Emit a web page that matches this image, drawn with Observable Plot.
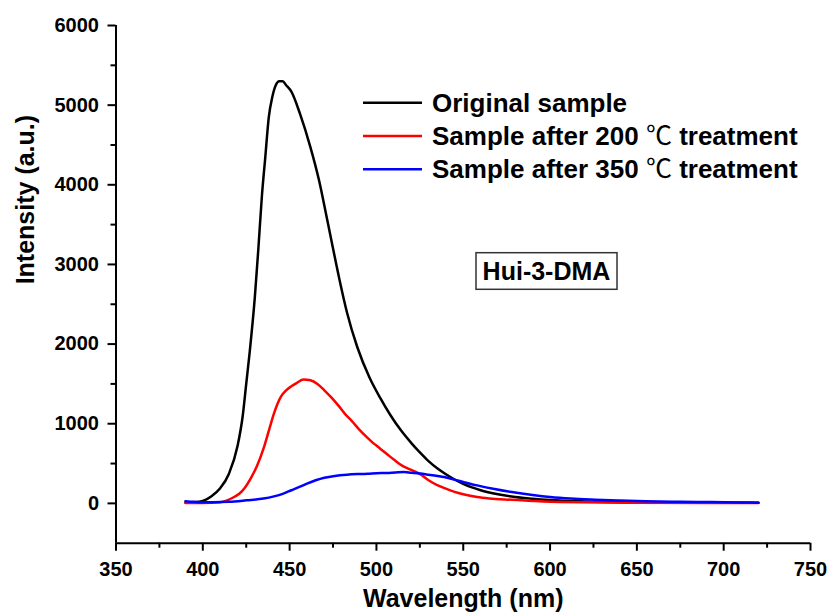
<!DOCTYPE html>
<html>
<head>
<meta charset="utf-8">
<script src="https://cdn.jsdelivr.net/npm/d3@7"></script>
<script src="https://cdn.jsdelivr.net/npm/@observablehq/plot@0.6"></script>
<style>
  html, body { margin: 0; padding: 0; background: #fff; }
  #chart { position: relative; width: 832px; height: 614px; }
  svg { display: block; }
</style>
</head>
<body>
<div id="chart"></div>
<script>
// ---- Data ----
const seriesNames = ["Original sample", "Sample after 200 \u2103 treatment", "Sample after 350 \u2103 treatment"];
const seriesColors = ["#000000", "#ff0000", "#0000ff"];

const originalWl = [390, 395, 400, 405, 410, 415, 420, 423, 425, 427, 430, 432, 434, 436, 438, 440, 442, 444, 446, 448, 451, 456, 462, 467, 471, 475, 479, 483, 489, 496, 502, 508, 514, 520, 525, 530, 535, 540, 545, 550, 555, 560, 570, 580, 590, 600, 620, 650, 680, 720];
const originalI  = [10, 14, 30, 90, 190, 370, 720, 1100, 1500, 1900, 2600, 3200, 3850, 4350, 4850, 5100, 5250, 5300, 5300, 5250, 5170, 4890, 4470, 4050, 3630, 3200, 2780, 2400, 1960, 1580, 1330, 1110, 920, 760, 640, 530, 440, 365, 300, 245, 200, 165, 115, 80, 58, 42, 25, 15, 10, 8];

const t200Wl = [390, 400, 410, 414, 418, 421, 424, 428, 431, 435, 438, 441, 445, 448, 451, 454, 458, 462, 466, 470, 474, 478, 482, 486, 490, 494, 498, 502, 506, 510, 515, 520, 525, 530, 535, 540, 545, 550, 558, 565, 578, 590, 606, 650, 720];
const t200I  = [5, 5, 15, 38, 80, 120, 190, 330, 460, 690, 910, 1130, 1340, 1420, 1470, 1510, 1555, 1545, 1500, 1420, 1330, 1230, 1120, 1030, 930, 840, 760, 690, 620, 550, 470, 420, 370, 290, 230, 185, 145, 115, 80, 62, 45, 30, 16, 8, 4];

const t350Wl = [390, 395, 400, 406, 415, 425, 435, 441, 446, 451, 456, 460, 465, 470, 476, 483, 490, 495, 500, 506, 511, 516, 520, 525, 530, 539, 548, 558, 568, 578, 590, 600, 612, 626, 640, 655, 675, 693, 710, 720];
const t350I  = [28, 20, 15, 15, 20, 38, 60, 88, 120, 165, 210, 248, 290, 322, 345, 360, 368, 372, 378, 382, 388, 393, 385, 375, 360, 330, 280, 226, 180, 142, 105, 80, 60, 46, 35, 26, 20, 16, 12, 9];

const xTicks = [350, 400, 450, 500, 550, 600, 650, 700, 750];
const xMinor = [375, 425, 475, 525, 575, 625, 675, 725];
const yTicks = [0, 1000, 2000, 3000, 4000, 5000, 6000];
const yMinor = [500, 1500, 2500, 3500, 4500, 5500];

const xLabel = "Wavelength (nm)";
const yLabel = "Intensity (a.u.)";
const sampleTag = "Hui-3-DMA";

// ---- Build table ----
const wls = [originalWl, t200Wl, t350Wl];
const vals = [originalI, t200I, t350I];
const data = [];
seriesNames.forEach((name, s) => {
  wls[s].forEach((w, i) => data.push({series: name, wl: w, intensity: vals[s][i]}));
});

const font = "'Liberation Sans', Arial, 'Helvetica Neue', sans-serif";

const chart = Plot.plot({
  width: 832,
  height: 614,
  marginLeft: 115.5,
  marginRight: 22,
  marginTop: 25,
  marginBottom: 71.3,
  x: {domain: [350, 750]},
  y: {domain: [-500, 6000]},
  color: {domain: seriesNames, range: seriesColors},
  style: {fontFamily: font, fontWeight: "bold", color: "#000", background: "#fff"},
  marks: [
    Plot.line(data, {x: "wl", y: "intensity", z: "series", stroke: "series", strokeWidth: 2.5, curve: "monotone-x"}),
    Plot.ruleX([350], {stroke: "#000", strokeWidth: 2}),
    Plot.ruleY([-500], {stroke: "#000", strokeWidth: 2}),
    Plot.axisY({ticks: yTicks, tickSize: 8, tickPadding: 9, fontSize: 20, strokeWidth: 2, label: null, tickFormat: d => String(d)}),
    Plot.axisY({ticks: yMinor, tickSize: 5, strokeWidth: 2, label: null, tickFormat: () => ""}),
    Plot.axisX({ticks: xTicks, tickSize: 8, tickPadding: 11, fontSize: 20, strokeWidth: 2, label: null, tickFormat: d => String(d)}),
    Plot.axisX({ticks: xMinor, tickSize: 5, strokeWidth: 2, label: null, tickFormat: () => ""}),
    Plot.text([yLabel], {frameAnchor: "left", dx: -90, rotate: -90, lineAnchor: "middle", fontSize: 25, fontWeight: "bold", fill: "#000"}),
    Plot.text([xLabel], {frameAnchor: "bottom", dy: 56, lineAnchor: "middle", fontSize: 25, fontWeight: "bold", fill: "#000"})
  ]
});

document.getElementById("chart").appendChild(chart);

// ---- Legend and sample tag ----
const svg = d3.select(chart);
const legend = svg.append("g").attr("font-family", font).attr("font-weight", "bold")
  .attr("font-size", 26).attr("text-anchor", "start");
seriesNames.forEach((name, i) => {
  const y = 102.7 + i * 33.3;
  legend.append("line").attr("x1", 363).attr("x2", 422).attr("y1", y).attr("y2", y)
    .attr("stroke", seriesColors[i]).attr("stroke-width", 2.5);
  const t = legend.append("text").attr("x", 432).attr("y", y).attr("dy", "0.35em").attr("fill", "#000");
  const parts = name.split("\u2103");
  t.append("tspan").text(parts[0]);
  if (parts.length > 1) {
    t.append("tspan").attr("font-family", "'Noto Sans CJK SC', 'DejaVu Sans', sans-serif").attr("font-weight", "normal").text("\u2103");
    t.append("tspan").text(parts[1]);
  }
});

const tag = svg.append("g");
tag.append("rect").attr("x", 476).attr("y", 252.7).attr("width", 141).attr("height", 36.6)
  .attr("fill", "#fff").attr("stroke", "#333").attr("stroke-width", 1.5);
tag.append("text").attr("x", 546.5).attr("y", 271).attr("dy", "0.35em").attr("text-anchor", "middle")
  .attr("font-family", font).attr("font-weight", "bold").attr("font-size", 25).attr("fill", "#000").text(sampleTag);
</script>
</body>
</html>
